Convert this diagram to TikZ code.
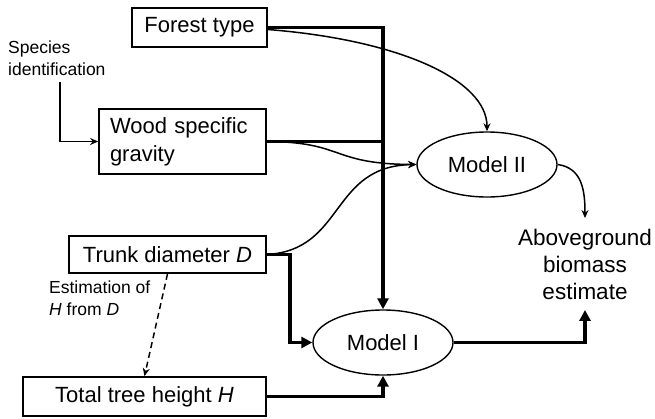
\documentclass[tikz,border=0pt]{standalone}
\usepackage{fontspec}
\setmainfont{Liberation Sans}
\usetikzlibrary{arrows.meta,shapes.geometric}
\begin{document}
\begin{tikzpicture}[x=1pt,y=-1pt,
  box/.style={draw,line width=1.8pt,inner sep=0pt,font=\fontsize{22}{28}\selectfont},
  model/.style={draw,ellipse,line width=1.4pt,inner sep=0pt,minimum width=140pt,minimum height=65pt,font=\fontsize{22}{28}\selectfont},
  small/.style={font=\fontsize{17.5}{22}\selectfont,align=left,inner sep=0pt},
  thick link/.style={line width=3.2pt,-{Triangle[length=11pt,width=11pt]}},
  plain thick/.style={line width=3.2pt},
  thin link/.style={line width=1.5pt,-{Stealth[length=8pt,width=7pt]}}]
\useasboundingbox (0,0) rectangle (655,418);
\node[box,minimum width=135pt,minimum height=39pt] (forest) at (199.5,27.5) {Forest type};
\node[box,minimum width=167pt,minimum height=65pt,text width=145pt,inner xsep=11pt,align=left] (wood) at (182.5,141.5) {Wood specific\\gravity};
\node[box,minimum width=197pt,minimum height=37pt] (trunk) at (167.5,254.5) {Trunk diameter \textit{D}};
\node[box,minimum width=243pt,minimum height=39pt] (total) at (144.5,396.5) {Total tree height \textit{H}};
\node[model] (m2) at (487,164.5) {Model II};
\node[model] (m1) at (383,342.5) {Model I};
\node[align=center,inner xsep=0pt,inner ysep=10.5pt,font=\fontsize{22.5}{27}\selectfont] (bio) at (585,264) {Aboveground\\biomass\\estimate};
\node[small,anchor=base west] (spec) at (8,75) {Species\\identification};
\node[small,anchor=base west] (est) at (49,315) {Estimation of\\\textit{H} from \textit{D}};
% thick connectors
\draw[thick link] (forest.east) -| (m1.north);
\draw[plain thick] (wood.east) -- (wood.east -| m1.north);
\draw[thick link] (trunk.east) -- ++(23,0) |- (m1.west);
\draw[thick link] (total.east) -| (m1.south);
\draw[thick link] (m1.east) -| (bio.south);
% thin connectors
\draw[thin link] ([yshift=-2pt]forest.east) .. controls (400,40) and (487,80) .. (m2.north);
\draw[thin link] (wood.east) .. controls (345,142) and (330,164) .. (m2.west);
\draw[thin link] (trunk.east) .. controls (345,250) and (330,166) .. (m2.west);
\draw[thin link] (m2.east) .. controls (582,168) and (585,190) .. (bio.north);
\draw[thin link] ([xshift=3pt,yshift=-7pt]spec.south) |- (wood.west);
\draw[thin link,dashed,dash pattern=on 6pt off 4pt] (trunk.south) -- (total.north);
\end{tikzpicture}
\end{document}
